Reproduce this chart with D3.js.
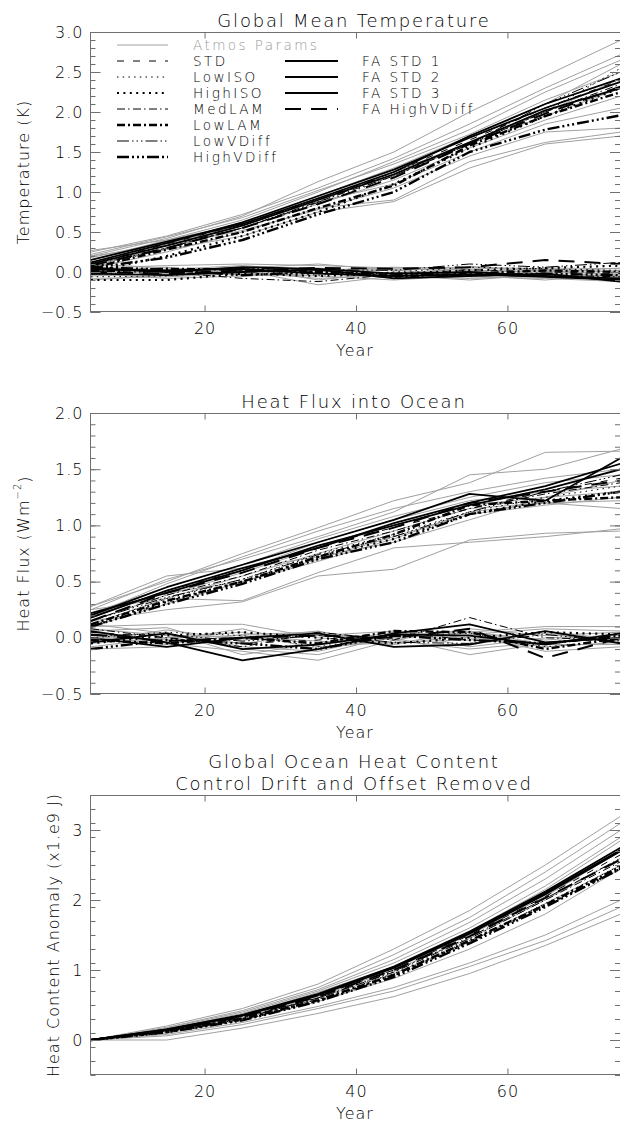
<!DOCTYPE html>
<html>
<head>
<meta charset="utf-8">
<script src="https://cdn.jsdelivr.net/npm/d3@7"></script>
<style>
  body { margin: 0; background: #fff; }
  text { font-family: "DejaVu Sans", sans-serif; font-weight: 200; fill: #000; letter-spacing: 1px; }
</style>
</head>
<body>
<script>
// decadal means, year axis
const years = [5, 15, 25, 35, 45, 55, 65, 75];
const xTicks = [20, 40, 60];

const blackNames = ["STD", "LowISO", "HighISO", "MedLAM", "LowLAM", "LowVDiff", "HighVDiff",
                    "FA STD 1", "FA STD 2", "FA STD 3", "FA HighVDiff"];

// ---- Global mean temperature (K)
const tempAtmosRun = [
  [0.20, 0.42, 0.70, 1.13, 1.50, 2.00, 2.45, 2.90],
  [0.25, 0.45, 0.72, 1.05, 1.42, 1.85, 2.30, 2.72],
  [0.15, 0.40, 0.65, 1.00, 1.38, 1.78, 2.25, 2.65],
  [0.12, 0.35, 0.60, 0.95, 1.30, 1.70, 2.10, 2.60],
  [0.10, 0.30, 0.58, 0.90, 1.25, 1.62, 2.00, 2.42],
  [0.18, 0.38, 0.62, 0.92, 1.20, 1.60, 1.95, 2.30],
  [0.08, 0.30, 0.55, 0.85, 1.15, 1.55, 1.90, 2.20],
  [0.20, 0.33, 0.52, 0.78, 1.05, 1.45, 1.75, 1.80],
  [0.05, 0.25, 0.50, 0.80, 0.90, 1.38, 1.62, 1.75],
  [0.10, 0.28, 0.45, 0.75, 0.88, 1.30, 1.60, 1.70],
  [0.27, 0.40, 0.60, 0.88, 1.10, 1.50, 1.85, 2.05],
  [0.22, 0.44, 0.68, 1.02, 1.35, 1.72, 2.15, 2.50]
];
const tempAtmosCtl = [
  [0.05, 0.08, 0.10, 0.08, 0.05, 0.06, 0.04, 0.00],
  [0.02, 0.00, 0.05, 0.10, 0.02, -0.02, 0.03, -0.05],
  [-0.05, -0.02, 0.02, -0.16, -0.05, -0.08, -0.05, -0.10],
  [0.10, 0.05, -0.03, 0.02, 0.06, 0.03, -0.02, 0.02],
  [-0.08, -0.06, -0.02, -0.05, -0.10, -0.04, -0.06, -0.08],
  [0.00, 0.03, 0.08, 0.02, -0.02, 0.05, 0.02, -0.03],
  [-0.02, -0.08, -0.05, -0.02, 0.03, -0.06, -0.08, -0.12],
  [0.06, 0.00, 0.02, 0.05, -0.03, 0.00, 0.05, 0.04],
  [-0.10, -0.04, 0.00, -0.08, -0.04, -0.10, -0.03, -0.06],
  [0.03, 0.06, -0.04, 0.00, 0.04, 0.02, 0.00, 0.05],
  [-0.04, 0.02, 0.06, -0.10, 0.00, -0.04, -0.10, -0.02],
  [0.08, -0.03, 0.00, 0.04, -0.07, 0.07, 0.01, -0.07]
];
const tempBlackRun = [
  [0.10, 0.35, 0.60, 0.90, 1.25, 1.65, 2.05, 2.40],
  [0.05, 0.30, 0.55, 0.85, 1.20, 1.60, 2.00, 2.55],
  [0.00, 0.20, 0.45, 0.75, 1.10, 1.55, 1.95, 2.30],
  [0.10, 0.33, 0.55, 0.88, 1.20, 1.60, 2.00, 2.35],
  [0.05, 0.28, 0.50, 0.80, 1.08, 1.58, 1.95, 2.25],
  [0.08, 0.30, 0.55, 0.87, 1.25, 1.60, 2.10, 2.50],
  [0.05, 0.18, 0.40, 0.72, 1.00, 1.50, 1.78, 1.96],
  [0.12, 0.36, 0.62, 0.95, 1.28, 1.68, 2.05, 2.38],
  [0.10, 0.33, 0.58, 0.90, 1.22, 1.62, 2.02, 2.30],
  [0.15, 0.38, 0.60, 0.92, 1.25, 1.70, 2.10, 2.42],
  [0.08, 0.30, 0.55, 0.85, 1.18, 1.60, 1.98, 2.32]
];
const tempBlackCtl = [
  [0.02, -0.03, 0.00, 0.02, -0.04, 0.03, 0.00, -0.02],
  [-0.06, -0.05, 0.02, -0.04, 0.00, 0.06, 0.04, 0.02],
  [-0.10, -0.10, -0.02, -0.05, -0.02, 0.02, 0.05, 0.08],
  [0.04, 0.00, -0.08, -0.12, -0.03, 0.00, -0.04, -0.06],
  [0.00, 0.04, 0.03, 0.00, -0.06, -0.02, 0.02, 0.00],
  [-0.03, 0.02, 0.05, 0.03, 0.02, 0.10, 0.06, 0.12],
  [0.06, 0.03, -0.04, 0.00, -0.02, -0.04, -0.02, -0.04],
  [0.03, 0.02, 0.04, -0.02, -0.05, -0.03, -0.06, -0.10],
  [-0.02, -0.04, 0.00, 0.03, -0.08, -0.05, -0.02, -0.12],
  [0.05, 0.00, 0.06, 0.04, -0.02, 0.00, -0.05, -0.08],
  [0.00, -0.02, 0.02, 0.05, 0.04, 0.06, 0.15, 0.10]
];

// ---- Heat flux into ocean (W m-2)
const fluxAtmosRun = [
  [0.28, 0.50, 0.75, 0.98, 1.22, 1.38, 1.65, 1.66],
  [0.25, 0.52, 0.70, 0.90, 1.12, 1.45, 1.50, 1.68],
  [0.20, 0.48, 0.72, 0.95, 1.15, 1.30, 1.42, 1.50],
  [0.22, 0.45, 0.65, 0.88, 1.08, 1.25, 1.38, 1.45],
  [0.18, 0.42, 0.60, 0.85, 1.05, 1.22, 1.30, 1.35],
  [0.15, 0.38, 0.58, 0.80, 1.00, 1.18, 1.25, 1.30],
  [0.12, 0.35, 0.55, 0.75, 0.95, 1.15, 1.20, 1.15],
  [0.20, 0.40, 0.50, 0.70, 0.90, 1.10, 1.18, 1.25],
  [0.25, 0.35, 0.33, 0.58, 0.80, 0.85, 0.90, 0.97],
  [0.15, 0.25, 0.32, 0.55, 0.61, 0.87, 0.93, 0.95],
  [0.28, 0.55, 0.62, 0.72, 0.85, 1.05, 1.25, 1.40],
  [0.10, 0.30, 0.50, 0.68, 0.88, 1.12, 1.20, 1.22]
];
const fluxAtmosCtl = [
  [0.10, 0.12, 0.12, 0.00, -0.05, 0.05, 0.10, 0.10],
  [0.05, -0.05, -0.12, -0.20, -0.02, 0.08, 0.02, 0.05],
  [-0.05, 0.00, 0.05, -0.10, 0.00, -0.15, -0.05, 0.00],
  [0.00, 0.05, -0.15, -0.05, 0.05, 0.02, -0.12, -0.08],
  [-0.10, -0.08, 0.00, 0.06, -0.08, -0.05, 0.06, -0.02],
  [0.08, 0.02, -0.05, 0.03, 0.00, 0.05, -0.02, 0.03],
  [0.03, -0.02, 0.08, -0.08, -0.04, -0.02, 0.04, -0.05],
  [-0.03, 0.07, -0.02, 0.02, 0.06, -0.08, 0.00, 0.02],
  [0.12, 0.04, -0.08, -0.12, 0.03, 0.00, -0.08, -0.04],
  [-0.08, 0.00, 0.02, -0.03, -0.06, 0.03, 0.08, 0.06],
  [0.02, -0.06, 0.03, 0.05, -0.02, -0.10, -0.04, 0.00],
  [0.06, 0.09, -0.10, -0.15, 0.02, 0.06, -0.06, -0.06]
];
const fluxBlackRun = [
  [0.18, 0.42, 0.60, 0.82, 0.98, 1.15, 1.30, 1.42],
  [0.12, 0.35, 0.52, 0.75, 0.92, 1.12, 1.25, 1.35],
  [0.10, 0.32, 0.50, 0.72, 0.88, 1.10, 1.22, 1.30],
  [0.15, 0.38, 0.55, 0.78, 0.95, 1.15, 1.28, 1.38],
  [0.12, 0.33, 0.50, 0.72, 0.92, 1.18, 1.22, 1.25],
  [0.15, 0.36, 0.52, 0.74, 0.90, 1.12, 1.30, 1.45],
  [0.10, 0.30, 0.48, 0.70, 0.85, 1.10, 1.20, 1.30],
  [0.20, 0.45, 0.65, 0.85, 1.05, 1.28, 1.22, 1.60],
  [0.22, 0.40, 0.60, 0.82, 1.00, 1.18, 1.32, 1.50],
  [0.18, 0.42, 0.62, 0.80, 1.02, 1.20, 1.35, 1.55],
  [0.15, 0.40, 0.58, 0.80, 0.98, 1.20, 1.30, 1.40]
];
const fluxBlackCtl = [
  [0.05, 0.00, -0.05, -0.02, 0.05, -0.02, -0.05, 0.00],
  [0.00, 0.05, 0.02, -0.08, 0.02, 0.04, -0.08, -0.02],
  [-0.05, 0.02, 0.05, 0.00, -0.05, 0.00, 0.05, 0.03],
  [0.08, 0.00, -0.08, 0.05, -0.02, 0.18, 0.00, -0.02],
  [-0.02, -0.05, 0.00, -0.05, 0.06, 0.05, -0.10, 0.00],
  [0.02, 0.03, -0.03, 0.02, -0.04, -0.05, 0.03, -0.04],
  [-0.10, -0.02, -0.05, -0.10, 0.02, -0.02, -0.05, 0.02],
  [0.06, -0.04, -0.20, -0.10, 0.04, 0.12, -0.04, 0.00],
  [0.00, -0.08, 0.00, 0.04, -0.08, -0.06, 0.06, -0.05],
  [-0.04, 0.04, -0.10, -0.06, 0.03, 0.02, -0.06, 0.04],
  [0.03, -0.03, 0.00, 0.02, 0.00, 0.08, -0.18, 0.00]
];

// ---- Global ocean heat content anomaly (x1.e9 J)
const ohcAtmos = [
  [0, 0.20, 0.45, 0.80, 1.30, 1.85, 2.50, 3.20],
  [0, 0.18, 0.42, 0.75, 1.22, 1.75, 2.40, 3.10],
  [0, 0.17, 0.40, 0.72, 1.15, 1.68, 2.30, 3.00],
  [0, 0.16, 0.38, 0.70, 1.10, 1.60, 2.20, 2.90],
  [0, 0.15, 0.36, 0.68, 1.05, 1.55, 2.15, 2.85],
  [0, 0.14, 0.35, 0.65, 1.02, 1.50, 2.05, 2.70],
  [0, 0.13, 0.33, 0.62, 1.00, 1.45, 2.00, 2.60],
  [0, 0.12, 0.30, 0.60, 0.95, 1.40, 1.95, 2.50],
  [0, 0.10, 0.28, 0.55, 0.88, 1.30, 1.80, 2.45],
  [0, 0.08, 0.25, 0.48, 0.75, 1.10, 1.50, 2.00],
  [0, 0.06, 0.22, 0.45, 0.70, 1.05, 1.42, 1.90],
  [0, 0.00, 0.17, 0.38, 0.62, 0.95, 1.35, 1.80]
];
const ohcBlack = [
  [0, 0.14, 0.34, 0.63, 1.00, 1.50, 2.05, 2.65],
  [0, 0.12, 0.30, 0.58, 0.95, 1.42, 1.95, 2.50],
  [0, 0.11, 0.29, 0.56, 0.92, 1.40, 1.92, 2.45],
  [0, 0.13, 0.32, 0.60, 0.97, 1.45, 2.00, 2.55],
  [0, 0.12, 0.30, 0.57, 0.93, 1.42, 1.93, 2.48],
  [0, 0.13, 0.31, 0.60, 0.98, 1.47, 2.02, 2.60],
  [0, 0.11, 0.28, 0.55, 0.90, 1.38, 1.90, 2.45],
  [0, 0.15, 0.36, 0.66, 1.05, 1.55, 2.12, 2.75],
  [0, 0.14, 0.35, 0.64, 1.03, 1.52, 2.08, 2.70],
  [0, 0.15, 0.35, 0.65, 1.04, 1.53, 2.10, 2.72],
  [0, 0.13, 0.33, 0.62, 1.00, 1.48, 2.03, 2.58]
];

const tempTicks = [-0.5, 0, 0.5, 1.0, 1.5, 2.0, 2.5, 3.0];
const fluxTicks = [-0.5, 0, 0.5, 1.0, 1.5, 2.0];
const ohcTicks = [0, 1, 2, 3];

// line styles, IDL style
const styles = {
  "Atmos Params": { color: "#a0a0a0", width: 1, dash: null },
  "STD":          { color: "#000", width: 1, dash: "7,9" },
  "LowISO":       { color: "#000", width: 1, dash: "1.5,4.2" },
  "HighISO":      { color: "#000", width: 2.2, dash: "2,4.4" },
  "MedLAM":       { color: "#000", width: 1, dash: "8,3,1.5,3.5" },
  "LowLAM":       { color: "#000", width: 2.4, dash: "8,3,2,3" },
  "LowVDiff":     { color: "#000", width: 1, dash: "12,3,1.5,3,1.5,3,1.5,3" },
  "HighVDiff":    { color: "#000", width: 2.4, dash: "12,3,2,3,2,3,2,3" },
  "FA STD 1":     { color: "#000", width: 1.8, dash: null },
  "FA STD 2":     { color: "#000", width: 1.8, dash: null },
  "FA STD 3":     { color: "#000", width: 1.8, dash: null },
  "FA HighVDiff": { color: "#000", width: 2, dash: "16,10" }
};

const W = 620, H = 1122;
const left = 91, right = 621;

const svg = d3.select("body").append("svg")
  .attr("width", W).attr("height", H);

const x = d3.scaleLinear().domain([5, 75]).range([left, right]);

function styled(sel, name) {
  const s = styles[name];
  return sel.attr("fill", "none")
    .attr("stroke", s.color)
    .attr("stroke-width", s.width)
    .attr("stroke-dasharray", s.dash)
    .attr("stroke-linejoin", "round");
}

const panels = [
  { top: 32, bottom: 312, domain: [-0.5, 3.0], ticks: tempTicks, minor: 0.1, fmt: d3.format(".1f"),
    title: ["Global Mean Temperature"], ylabel: "Temperature (K)", ylx: 23,
    gray: tempAtmosRun.concat(tempAtmosCtl), black: [tempBlackRun, tempBlackCtl] },
  { top: 413, bottom: 694, domain: [-0.5, 2.0], ticks: fluxTicks, minor: 0.1, fmt: d3.format(".1f"),
    title: ["Heat Flux into Ocean"], ylabel: "flux", ylx: 23,
    gray: fluxAtmosRun.concat(fluxAtmosCtl), black: [fluxBlackRun, fluxBlackCtl] },
  { top: 795, bottom: 1075, domain: [-0.5, 3.5], ticks: ohcTicks, minor: 0.2, fmt: d3.format("d"),
    title: ["Global Ocean Heat Content", "Control Drift and Offset Removed"],
    ylabel: "Heat Content Anomaly (x1.e9 J)", ylx: 53,
    gray: ohcAtmos, black: [ohcBlack] }
];

panels.forEach((p, k) => {
  const y = d3.scaleLinear().domain(p.domain).range([p.bottom, p.top]);
  const g = svg.append("g");

  const clipId = "clip" + k;
  svg.append("clipPath").attr("id", clipId).append("rect")
    .attr("x", left).attr("y", p.top).attr("width", right - left).attr("height", p.bottom - p.top);

  const line = d3.line().x((d, i) => x(years[i])).y(d => y(d));
  const lines = g.append("g").attr("clip-path", `url(#${clipId})`);

  p.gray.forEach(s => styled(lines.append("path").datum(s).attr("d", line), "Atmos Params"));
  p.black.forEach(set => set.forEach((s, i) => {
    styled(lines.append("path").datum(s).attr("d", line), blackNames[i]);
  }));

  // frame
  g.append("rect")
    .attr("x", left - 0.5).attr("y", p.top + 0.5)
    .attr("width", right - left).attr("height", p.bottom - p.top - 1)
    .attr("fill", "none").attr("stroke", "#707070").attr("stroke-width", 1);

  const minorVals = d3.range(p.domain[0], p.domain[1] + 1e-9, p.minor);
  const tickStroke = a => a.call(s => s.select(".domain").remove())
    .call(s => s.selectAll("line").attr("stroke", "#707070"));

  // y axis left, inward ticks
  g.append("g").attr("transform", `translate(${left - 0.5},0)`)
    .call(d3.axisLeft(y).tickValues(minorVals).tickSize(-5).tickFormat(""))
    .call(tickStroke);
  g.append("g").attr("transform", `translate(${left - 0.5},0)`)
    .call(d3.axisLeft(y).tickValues(p.ticks).tickSize(-10).tickPadding(7).tickFormat(p.fmt))
    .call(tickStroke)
    .call(s => s.selectAll("text").attr("font-size", 16).attr("fill", "#000"));
  // right side
  g.append("g").attr("transform", `translate(${right - 1},0)`)
    .call(d3.axisRight(y).tickValues(minorVals).tickSize(-5).tickFormat(""))
    .call(tickStroke);
  g.append("g").attr("transform", `translate(${right - 1},0)`)
    .call(d3.axisRight(y).tickValues(p.ticks).tickSize(-10).tickFormat(""))
    .call(tickStroke);

  // x axis
  g.append("g").attr("transform", `translate(0,${p.bottom - 0.5})`)
    .call(d3.axisBottom(x).tickValues(xTicks).tickSize(-6).tickPadding(11).tickFormat(d3.format("d")))
    .call(tickStroke)
    .call(s => s.selectAll("text").attr("font-size", 16).attr("fill", "#000"));
  g.append("g").attr("transform", `translate(0,${p.top + 0.5})`)
    .call(d3.axisTop(x).tickValues(xTicks).tickSize(-6).tickFormat(""))
    .call(tickStroke);

  // labels
  g.append("text").attr("x", 355).attr("y", p.bottom + 44)
    .attr("text-anchor", "middle").attr("font-size", 16).text("Year");

  p.title.forEach((t, j) => {
    g.append("text").attr("x", 354).attr("y", p.top - 5.5 - (p.title.length - 1 - j) * 21.5)
      .attr("text-anchor", "middle").attr("font-size", 18)
      .style("letter-spacing", "1.8px").text(t);
  });

  const yl = g.append("text")
    .attr("transform", `translate(${p.ylx},${(p.top + p.bottom) / 2}) rotate(-90)`)
    .attr("dy", "0.36em").attr("text-anchor", "middle").attr("font-size", 16);
  if (p.ylabel === "flux") {
    yl.append("tspan").text("Heat Flux (Wm");
    yl.append("tspan").attr("font-size", 10).attr("dy", "-0.8em").text("\u22122");
    yl.append("tspan").attr("dy", "0.55em").text(")");
  } else {
    yl.text(p.ylabel);
  }
});

// legend (first panel)
const leg = svg.append("g");
const legRows = ["Atmos Params"].concat(blackNames.slice(0, 7));
legRows.forEach((name, i) => {
  const yy = 45 + i * 16;
  styled(leg.append("line").attr("x1", 117).attr("x2", 168).attr("y1", yy).attr("y2", yy), name);
  leg.append("text").attr("x", 193).attr("y", yy + 5).attr("font-size", 13.6)
    .style("letter-spacing", "2.4px")
    .style("fill", name === "Atmos Params" ? "#999" : "#000").text(name);
});
blackNames.slice(7).forEach((name, i) => {
  const yy = 61 + i * 16;
  styled(leg.append("line").attr("x1", 285).attr("x2", 338).attr("y1", yy).attr("y2", yy), name);
  leg.append("text").attr("x", 362).attr("y", yy + 5).attr("font-size", 13.6)
    .style("letter-spacing", "2.4px").text(name);
});
</script>
</body>
</html>
